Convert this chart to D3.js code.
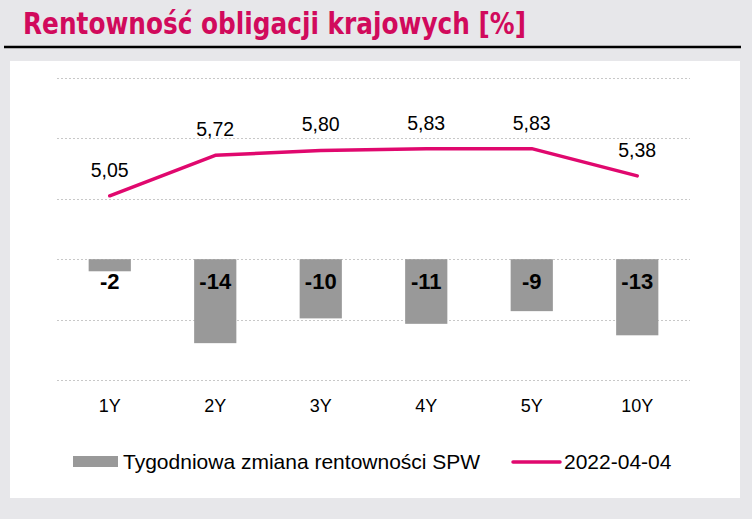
<!DOCTYPE html>
<html><head><meta charset="utf-8">
<script src="https://cdn.jsdelivr.net/npm/d3@7"></script>
<style>
html,body{margin:0;padding:0;background:#e7e7ea;}
svg{display:block;}
</style></head>
<body>
<svg id="chart" width="752" height="519"></svg>
<script>
const titleText = "Rentowność obligacji krajowych [%]";
const categories = ["1Y","2Y","3Y","4Y","5Y","10Y"];
const weeklyChange = [-2.0,-13.9,-9.8,-10.7,-8.6,-12.6];
const yields = [5.05,5.72,5.80,5.83,5.83,5.38];
const barSeriesName = "Tygodniowa zmiana rentowności SPW";
const lineSeriesName = "2022-04-04";
const barTicks = [-20,-10,0,10,20,30];

const svg = d3.select("#chart");
const fmt = v => d3.format(".2f")(v).replace(".", ",");
const fmtBar = v => d3.format(".0f")(v).replace("−","-");

// background
svg.append("rect").attr("width",752).attr("height",519).attr("fill","#e7e7ea");
// title
svg.append("text").attr("x",23).attr("y",34)
  .attr("font-family","'DejaVu Sans Condensed','DejaVu Sans',sans-serif")
  .attr("font-stretch","condensed")
  .attr("font-weight","bold").attr("font-size",30)
  .attr("fill","#d10a5c")
  .attr("textLength",503).attr("lengthAdjust","spacingAndGlyphs")
  .text(titleText);
svg.append("line").attr("x1",4).attr("x2",741).attr("y1",47).attr("y2",47)
  .attr("stroke","#000").attr("stroke-width",2.5);
// panel
svg.append("rect").attr("x",10).attr("y",61).attr("width",730).attr("height",437).attr("fill","#fff");

const x = d3.scaleBand().domain(categories).range([57,690]).padding(0);
const yBar = d3.scaleLinear().domain([-20,30]).range([380,78]);
const yLine = d3.scaleLinear().domain([2,7]).range([380,78]);

// gridlines
svg.append("g").selectAll("line").data(barTicks).join("line")
  .attr("x1",57).attr("x2",690)
  .attr("y1",d=>Math.round(yBar(d))+0.5).attr("y2",d=>Math.round(yBar(d))+0.5)
  .attr("stroke","#c8c8c8").attr("stroke-width",1).attr("stroke-dasharray","2,2");

const bw = x.bandwidth()*0.4;
// bars
svg.append("g").selectAll("rect").data(weeklyChange).join("rect")
  .attr("x",(d,i)=>x(categories[i])+(x.bandwidth()-bw)/2)
  .attr("width",bw)
  .attr("y",d=>yBar(Math.max(0,d)))
  .attr("height",d=>Math.abs(yBar(d)-yBar(0)))
  .attr("fill","#999999");
// bar labels
svg.append("g").selectAll("text").data(weeklyChange).join("text")
  .attr("x",(d,i)=>x(categories[i])+x.bandwidth()/2)
  .attr("y",yBar(0)+30)
  .attr("text-anchor","middle")
  .attr("font-family","'Liberation Sans',Arial,sans-serif")
  .attr("font-weight","bold").attr("font-size",22).attr("fill","#000")
  .text(d=>fmtBar(d));

// line
const line = d3.line().x((d,i)=>x(categories[i])+x.bandwidth()/2).y(d=>yLine(d));
svg.append("path").datum(yields).attr("d",line)
  .attr("fill","none").attr("stroke","#e0086e").attr("stroke-width",3.5)
  .attr("stroke-linejoin","round").attr("stroke-linecap","round");
svg.append("g").selectAll("text").data(yields).join("text")
  .attr("x",(d,i)=>x(categories[i])+x.bandwidth()/2)
  .attr("y",d=>yLine(d)-19)
  .attr("text-anchor","middle")
  .attr("font-family","'Liberation Sans',Arial,sans-serif")
  .attr("font-size",19.5).attr("fill","#000")
  .text(d=>fmt(d));

// category axis labels
svg.append("g").selectAll("text").data(categories).join("text")
  .attr("x",d=>x(d)+x.bandwidth()/2)
  .attr("y",412)
  .attr("text-anchor","middle")
  .attr("font-family","'Liberation Sans',Arial,sans-serif")
  .attr("font-size",18).attr("fill","#000")
  .text(d=>d);

// legend
const lg = svg.append("g");
lg.append("rect").attr("x",73).attr("y",456).attr("width",45).attr("height",11).attr("fill","#999999");
lg.append("text").attr("x",123).attr("y",469)
  .attr("font-family","'Liberation Sans',Arial,sans-serif")
  .attr("font-size",21).attr("fill","#000").text(barSeriesName);
lg.append("line").attr("x1",513).attr("x2",560).attr("y1",462).attr("y2",462)
  .attr("stroke","#e0086e").attr("stroke-width",3.5).attr("stroke-linecap","round");
lg.append("text").attr("x",564).attr("y",469)
  .attr("font-family","'Liberation Sans',Arial,sans-serif")
  .attr("font-size",21).attr("fill","#000").text(lineSeriesName);
</script>
</body></html>
